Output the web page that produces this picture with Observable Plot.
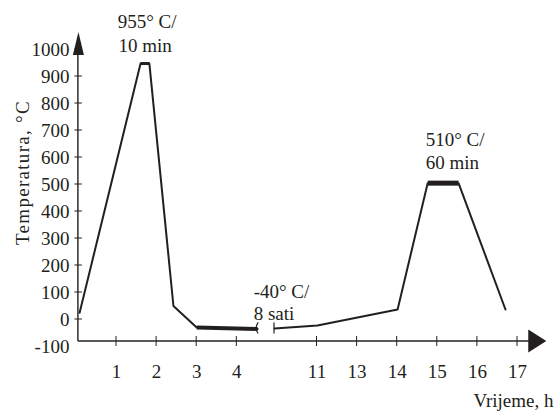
<!DOCTYPE html>
<html><head><meta charset="utf-8">
<script src="https://cdn.jsdelivr.net/npm/d3@7"></script>
<script src="https://cdn.jsdelivr.net/npm/@observablehq/plot@0.6"></script>
<style>
body{margin:0;background:#fff}
svg g[transform*="rotate"] text, svg text[transform*="rotate"]{letter-spacing:1.3px}
</style>
</head><body><div id="chart"></div>
<script>
// Time axis is broken between 4 h and 11 h: values are placed on evenly spaced slots.
const xTickSlots  = [1, 2, 3, 4, 6, 7, 8, 9, 10, 11];
const xTickLabels = ["1", "2", "3", "4", "11", "13", "14", "15", "16", "17"];
const yTicks      = [-100, 0, 100, 200, 300, 400, 500, 600, 700, 800, 900, 1000];
const yTickLabels = ["-100", "0", "100", "200", "300", "400", "500", "600", "700", "800", "900", "1000"];

// Temperature profile, part before the break
const seg1Slot = [0.08, 1.60, 1.82, 2.42, 3.00, 4.52];
const seg1Temp = [25, 948, 948, 50, -30, -35];
// part after the break
const seg2Slot = [4.94, 6.01, 8.01, 8.76, 9.53, 10.70];
const seg2Temp = [-33, -22, 37, 505, 505, 37];

// Hold stages (drawn heavier)
const holdName  = ["austenitize", "subzero", "temper"];
const holdStart = [1.60, 3.00, 8.76];
const holdEnd   = [1.82, 4.52, 9.53];
const holdT0    = [948, -30, 505];
const holdT1    = [948, -35, 505];

// Annotations
const annText = ["955° C/", "10 min", "-40° C/", "8 sati", "510° C/", "60 min"];
const annSlot = [1.03, 1.05, 4.42, 4.42, 8.71, 8.71];
const annTemp = [1078, 989, 81, 0, 644, 556];

// Break between slots
const breakSlots = [4.52, 4.94];
const breakTemp = -35;

// axes geometry (data units)
const ORIGIN_SLOT = 0.05, AXIS_TEMP = -81.5;
const X_TIP_SLOT = 11.73, Y_TIP_TEMP = 1063;

const profile = [
  ...seg1Slot.map((s, i) => ({slot: s, temp: seg1Temp[i], seg: "a"})),
  ...seg2Slot.map((s, i) => ({slot: s, temp: seg2Temp[i], seg: "b"}))
];
const holds = holdName.flatMap((n, i) => [
  {seg: n, slot: holdStart[i], temp: holdT0[i]},
  {seg: n, slot: holdEnd[i], temp: holdT1[i]}
]);
const ann = annText.map((t, i) => ({text: t, slot: annSlot[i], temp: annTemp[i]}));

const INK = "#231f20", AXIS = "#5a5a5a";
const FONT = 19;

function axesMark(index, scales) {
  const x = scales.x, y = scales.y;
  const g = d3.create("svg:g");
  const ox = x(ORIGIN_SLOT), oy = y(AXIS_TEMP);
  const xt = x(X_TIP_SLOT), yt = y(Y_TIP_TEMP);
  // axis lines
  g.append("line").attr("x1", ox).attr("x2", xt - 10).attr("y1", oy).attr("y2", oy)
    .attr("stroke", AXIS).attr("stroke-width", 1.8);
  g.append("line").attr("x1", ox).attr("x2", ox).attr("y1", oy).attr("y2", yt + 10)
    .attr("stroke", INK).attr("stroke-width", 1.4);
  // ticks
  for (const s of xTickSlots) {
    g.append("line").attr("x1", x(s)).attr("x2", x(s)).attr("y1", oy - 5).attr("y2", oy + 5)
      .attr("stroke", INK).attr("stroke-width", 1);
  }
  for (const t of yTicks) {
    if (t < 0) continue;
    g.append("line").attr("x1", ox - 3.5).attr("x2", ox + 4).attr("y1", y(t)).attr("y2", y(t))
      .attr("stroke", INK).attr("stroke-width", 1);
  }
  // arrowheads
  g.append("path").attr("d", `M${xt},${oy} L${xt - 18},${oy - 11.5} L${xt - 18},${oy + 11.5} Z`).attr("fill", INK);
  g.append("path").attr("d", `M${ox + 0.5},${yt} L${ox - 5},${yt + 23} L${ox + 6},${yt + 23} Z`).attr("fill", INK);
  // break marks
  const by = y(breakTemp);
  const b1 = x(breakSlots[0]), b2 = x(breakSlots[1]);
  g.append("path").attr("d", `M${b1 + 1},${by - 6} Q${b1 - 3},${by} ${b1 + 1},${by + 5}`)
    .attr("fill", "none").attr("stroke", INK).attr("stroke-width", 1.2);
  g.append("line").attr("x1", b2).attr("x2", b2).attr("y1", by - 6).attr("y2", by + 5)
    .attr("stroke", INK).attr("stroke-width", 1.2);
  return g.node();
}

const chart = Plot.plot({
  width: 555,
  height: 416,
  margin: 0,
  x: {domain: [1, 11], range: [116, 517], axis: null},
  y: {domain: [0, 900], range: [319, 76], axis: null},
  style: {fontFamily: "'Liberation Serif', 'DejaVu Serif', serif", background: "#fff", color: INK},
  marks: [
    axesMark,
    Plot.line(profile, {x: "slot", y: "temp", z: "seg", stroke: INK, strokeWidth: 2, strokeLinejoin: "round"}),
    Plot.line(holds, {x: "slot", y: "temp", z: "seg", stroke: INK,
      strokeWidth: d => d.seg === "temper" ? 5 : d.seg === "subzero" ? 4 : 3, strokeLinecap: "butt"}),
    Plot.text(xTickSlots, {x: d => d, y: AXIS_TEMP, text: (d, i) => xTickLabels[i], dy: 36,
      lineAnchor: "bottom", fontSize: FONT, fill: INK}),
    Plot.text(yTicks, {x: ORIGIN_SLOT, y: d => d, text: (d, i) => yTickLabels[i], dx: -9,
      textAnchor: "end", fontSize: FONT, fill: INK}),
    Plot.text(ann, {x: "slot", y: "temp", text: "text", textAnchor: "start", lineAnchor: "bottom",
      fontSize: FONT, fill: INK}),
    Plot.text(["Vrijeme, h"], {frameAnchor: "bottom-right", dx: -2, dy: -10, textAnchor: "end",
      lineAnchor: "bottom", fontSize: FONT, fill: INK}),
    Plot.text(["Temperatura, °C"], {frameAnchor: "left", rotate: -90, dx: 28, dy: -36,
      textAnchor: "middle", lineAnchor: "bottom", fontSize: FONT, fill: INK})
  ]
});
document.getElementById("chart").appendChild(chart);
</script>
</body></html>
